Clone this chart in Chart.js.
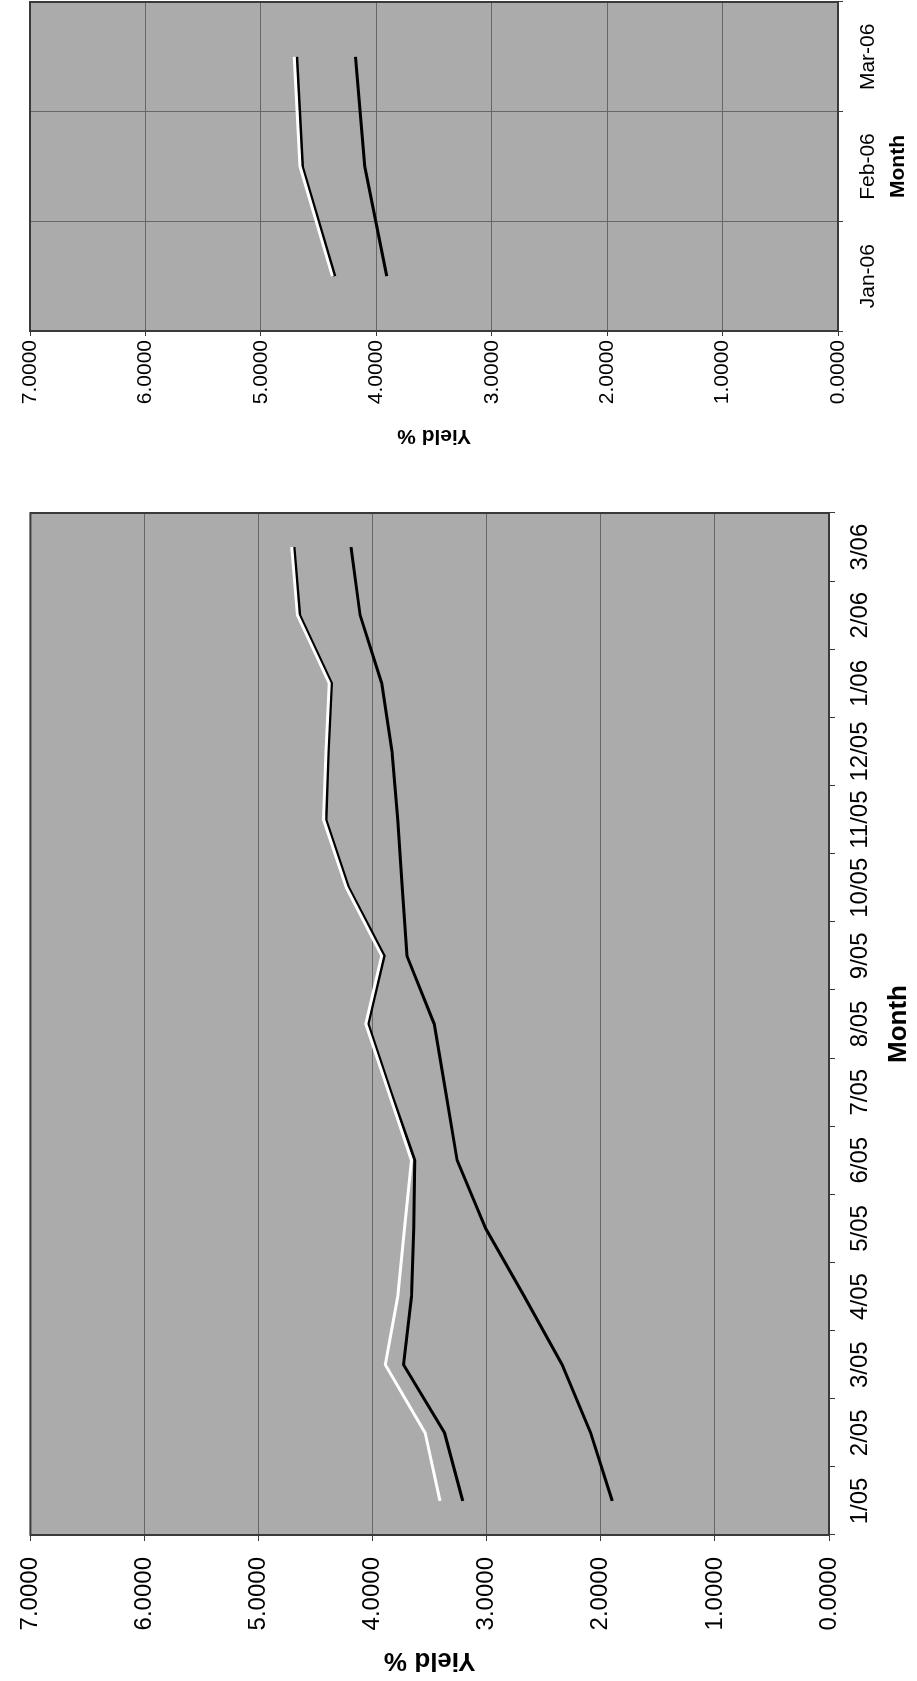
<!DOCTYPE html>
<html>
<head>
<meta charset="utf-8">
<script src="https://cdn.jsdelivr.net/npm/chart.js@4.4.1/dist/chart.umd.min.js"></script>
<style>
  html, body { margin: 0; padding: 0; background: #fff; overflow: hidden; }
  /* the printed page is landscape, turned a quarter to fit the portrait sheet */
  #page {
    position: absolute; left: 0; top: 1681px;
    width: 1681px; height: 917px;
    transform-origin: 0 0; transform: rotate(-90deg);
  }
  canvas { position: absolute; top: 0; }
</style>
</head>
<body>
<div id="page">
  <canvas id="big" width="1190" height="917" style="left:0"></canvas>
  <canvas id="small" width="453" height="917" style="left:1228px"></canvas>
</div>
<script>
const bigMonths = ["1/05", "2/05", "3/05", "4/05", "5/05", "6/05", "7/05", "8/05",
  "9/05", "10/05", "11/05", "12/05", "1/06", "2/06", "3/06"];
const bigWhite = [3.41, 3.54, 3.89, 3.78, 3.72, 3.66, 3.86, 4.06, 3.92, 4.23, 4.43, 4.41, 4.38, 4.66, 4.71];
const bigMid = [3.21, 3.37, 3.73, 3.66, 3.64, 3.63, 3.84, 4.04, 3.90, 4.21, 4.41, 4.39, 4.36, 4.64, 4.69];
const bigLow = [1.90, 2.09, 2.34, 2.67, 3.01, 3.26, 3.36, 3.46, 3.70, 3.74, 3.78, 3.83, 3.92, 4.11, 4.19];

const smallMonths = ["Jan-06", "Feb-06", "Mar-06"];
const smallWhite = [4.38, 4.66, 4.71];
const smallMid = [4.36, 4.64, 4.69];
const smallLow = [3.91, 4.10, 4.18];

const yieldMin = 0;
const yieldMax = 7;
const yieldStep = 1;

const FONT = "'Liberation Sans', Arial, sans-serif";
const plotGray = "#ababab";
const gridGray = "#676767";
const frameGray = "#3a3a3a";

Chart.defaults.font.family = FONT;
Chart.defaults.color = "#000";

// grey plot area and its dark frame, like the old spreadsheet chart
const plotFrame = {
  id: "plotFrame",
  beforeDraw(chart) {
    const a = chart.chartArea;
    const ctx = chart.ctx;
    ctx.save();
    ctx.fillStyle = plotGray;
    ctx.fillRect(a.left, a.top, a.right - a.left, a.bottom - a.top);
    ctx.restore();
  },
  beforeDatasetsDraw(chart) {
    const a = chart.chartArea;
    const ctx = chart.ctx;
    ctx.save();
    ctx.strokeStyle = frameGray;
    ctx.lineWidth = 2;
    ctx.strokeRect(a.left, a.top, a.right - a.left, a.bottom - a.top);
    ctx.restore();
  }
};

function makeChart(id, labels, white, mid, low, o) {
  const ctx = document.getElementById(id).getContext("2d");
  return new Chart(ctx, {
    type: "line",
    data: {
      labels,
      datasets: [
        { data: white, borderColor: "#ffffff", borderWidth: 3 },
        { data: mid, borderColor: "#000000", borderWidth: 3 },
        { data: low, borderColor: "#000000", borderWidth: 3 }
      ]
    },
    options: {
      responsive: false,
      animation: false,
      events: [],
      layout: { padding: { top: o.top, right: o.right, left: 0, bottom: 0 } },
      elements: {
        point: { radius: 0 },
        line: { tension: 0, fill: false }
      },
      plugins: {
        legend: { display: false },
        tooltip: { enabled: false }
      },
      scales: {
        x: {
          offset: true,
          grid: {
            offset: true,
            drawOnChartArea: o.catGrid,
            color: gridGray,
            tickColor: frameGray,
            tickLength: o.tick
          },
          border: { display: false },
          ticks: {
            autoSkip: false,
            maxRotation: 0,
            padding: o.xPad,
            font: { size: o.tickSize }
          },
          title: {
            display: true,
            text: "Month",
            font: { size: o.titleSize, weight: "bold" },
            padding: { top: 0, bottom: o.xTitlePad }
          },
          afterFit(scale) { scale.height = o.xHeight; }
        },
        y: {
          min: yieldMin,
          max: yieldMax,
          grid: {
            color: gridGray,
            tickColor: frameGray,
            tickLength: o.tick
          },
          border: { display: false },
          ticks: {
            stepSize: yieldStep,
            padding: o.yPad,
            font: { size: o.tickSize },
            callback: v => Number(v).toFixed(4)
          },
          title: {
            display: true,
            text: "Yield %",
            font: { size: o.titleSize, weight: "bold" },
            padding: { top: 5, bottom: 0 }
          },
          afterFit(scale) { scale.width = o.yWidth; }
        }
      }
    },
    plugins: [plotFrame]
  });
}

makeChart("big", bigMonths, bigWhite, bigMid, bigLow, {
  top: 24, right: 22, yWidth: 146, xHeight: 88,
  tick: 6, xPad: 11, yPad: 16, xTitlePad: 3,
  tickSize: 24, titleSize: 26, catGrid: false
});

makeChart("small", smallMonths, smallWhite, smallMid, smallLow, {
  top: 30, right: 2, yWidth: 122, xHeight: 79,
  tick: 5, xPad: 13, yPad: 4, xTitlePad: 6,
  tickSize: 21, titleSize: 21, catGrid: true
});
</script>
</body>
</html>
